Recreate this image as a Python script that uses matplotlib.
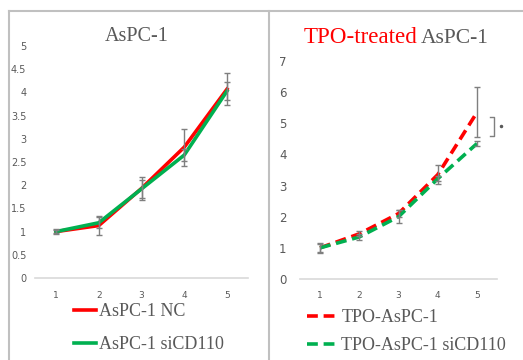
import matplotlib.pyplot as plt
from matplotlib.lines import Line2D

# data
days = [1, 2, 3, 4, 5]

nc = [1.0, 1.13, 1.93, 2.82, 4.07]
nc_err = [0.05, 0.2, 0.25, 0.4, 0.35]
si = [1.0, 1.19, 1.92, 2.65, 4.03]
si_err = [0.04, 0.12, 0.2, 0.12, 0.2]

tpo = [1.0, 1.45, 2.1, 3.35, 5.35]
tpo_err = [0.15, 0.08, 0.12, 0.3, 0.8]
tpo_si = [1.0, 1.35, 2.0, 3.22, 4.35]
tpo_si_err = [0.12, 0.1, 0.2, 0.08, 0.07]

left_ticks = [0, 0.5, 1, 1.5, 2, 2.5, 3, 3.5, 4, 4.5, 5]
left_ticklabels = ['0', '0.5', '1', '1.5', '2', '2.5', '3', '3.5', '4', '4.5', '5']
right_ticks = [0, 1, 2, 3, 4, 5, 6, 7]

RED = '#ff0000'
GREEN = '#00b050'
GRAY = '#595959'
ERR = '#7f7f7f'
FRAME = '#c0c0c0'
SERIF = 'Liberation Serif'

W, H = 523, 360
fig = plt.figure(figsize=(W / 100, H / 100), dpi=100)


def px_axes(x0, x1, ytop, ybot):
    return fig.add_axes([x0 / W, 1 - ybot / H, (x1 - x0) / W, (ybot - ytop) / H])


def style(ax, ymax, ticks, labels, size):
    ax.set_xlim(0.5, 5.5)
    ax.set_ylim(0, ymax)
    for s in ['top', 'right', 'left']:
        ax.spines[s].set_visible(False)
    ax.spines['bottom'].set_color('#d9d9d9')
    ax.spines['bottom'].set_linewidth(1.2)
    ax.set_xticks(days)
    ax.set_xticklabels([str(d) for d in days], fontsize=6.5, color=GRAY)
    ax.set_yticks(ticks)
    ax.set_yticklabels(labels, fontsize=size, color=GRAY)
    ax.tick_params(length=0)
    ax.tick_params(axis='x', pad=9)


# left panel
ax1 = px_axes(34.6, 248.4, 46, 278)
style(ax1, 5, left_ticks, left_ticklabels, 7)
ax1.tick_params(axis='y', pad=6)
ax1.plot(days, nc, color=RED, lw=2.6, zorder=3)
ax1.plot(days, si, color=GREEN, lw=2.6, zorder=3)
ax1.errorbar(days, nc, yerr=nc_err, fmt='none', ecolor=ERR, elinewidth=1, capsize=2.5, zorder=4)
ax1.errorbar(days, si, yerr=si_err, fmt='none', ecolor=ERR, elinewidth=1, capsize=2.5, zorder=4)

# right panel
ax2 = px_axes(300.4, 496.6, 61, 279)
style(ax2, 7, right_ticks, [str(t) for t in right_ticks], 8.5)
ax2.tick_params(axis='y', pad=10)
ax2.plot(days, tpo, color=RED, lw=2.6, ls=(0, (3, 1.6)), zorder=3)
ax2.plot(days, tpo_si, color=GREEN, lw=2.6, ls=(0, (3, 1.6)), zorder=3)
ax2.errorbar(days, tpo, yerr=tpo_err, fmt='none', ecolor=ERR, elinewidth=1, capsize=2.5, zorder=4)
ax2.errorbar(days, tpo_si, yerr=tpo_si_err, fmt='none', ecolor=ERR, elinewidth=1, capsize=2.5, zorder=4)

# significance bracket
ax2.plot([5.34, 5.44, 5.44, 5.34], [5.2, 5.2, 4.6, 4.6], color=ERR, lw=1, clip_on=False)
ax2.plot([5.6], [4.9], marker='o', ms=1.5, color=GRAY, clip_on=False)

# titles
fig.text(137 / W, 1 - 41 / H, 'AsPC-1', ha='center', va='baseline',
         fontsize=14.5, color=GRAY, family=SERIF)
fig.text(304 / W, 1 - 43 / H, 'TPO-treated', ha='left', va='baseline',
         fontsize=16.6, color=RED, family=SERIF)
fig.text(421 / W, 1 - 43 / H, 'AsPC-1', ha='left', va='baseline',
         fontsize=15.5, color=GRAY, family=SERIF)

# legends
h1 = [Line2D([], [], color=RED, lw=2.6), Line2D([], [], color=GREEN, lw=2.6)]
leg1 = fig.legend(h1, ['AsPC-1 NC', 'AsPC-1 siCD110'], loc='upper left',
                  bbox_to_anchor=(65 / W, 1 - 294 / H), frameon=False, borderpad=0,
                  handlelength=1.2, handletextpad=0.2, labelspacing=0.9,
                  prop={'family': SERIF, 'size': 13})
for t in leg1.get_texts():
    t.set_color(GRAY)

h2 = [Line2D([], [], color=RED, lw=2.6, ls=(0, (3, 1.6))),
      Line2D([], [], color=GREEN, lw=2.6, ls=(0, (3, 1.6)))]
leg2 = fig.legend(h2, ['TPO-AsPC-1', 'TPO-AsPC-1 siCD110'], loc='upper left',
                  bbox_to_anchor=(298 / W, 1 - 300 / H), frameon=False, borderpad=0,
                  handlelength=1.75, handletextpad=0.15, labelspacing=0.62,
                  prop={'family': SERIF, 'size': 13})
for t in leg2.get_texts():
    t.set_color(GRAY)

# panel frame
fig.add_artist(Line2D([9 / W, 1], [1 - 10.5 / H] * 2, color=FRAME, lw=1.5))
fig.add_artist(Line2D([9 / W] * 2, [0, 1 - 10.5 / H], color=FRAME, lw=1.5))
fig.add_artist(Line2D([269 / W] * 2, [0, 1 - 10.5 / H], color=FRAME, lw=1.5))

fig.savefig('out.png', dpi=100)
